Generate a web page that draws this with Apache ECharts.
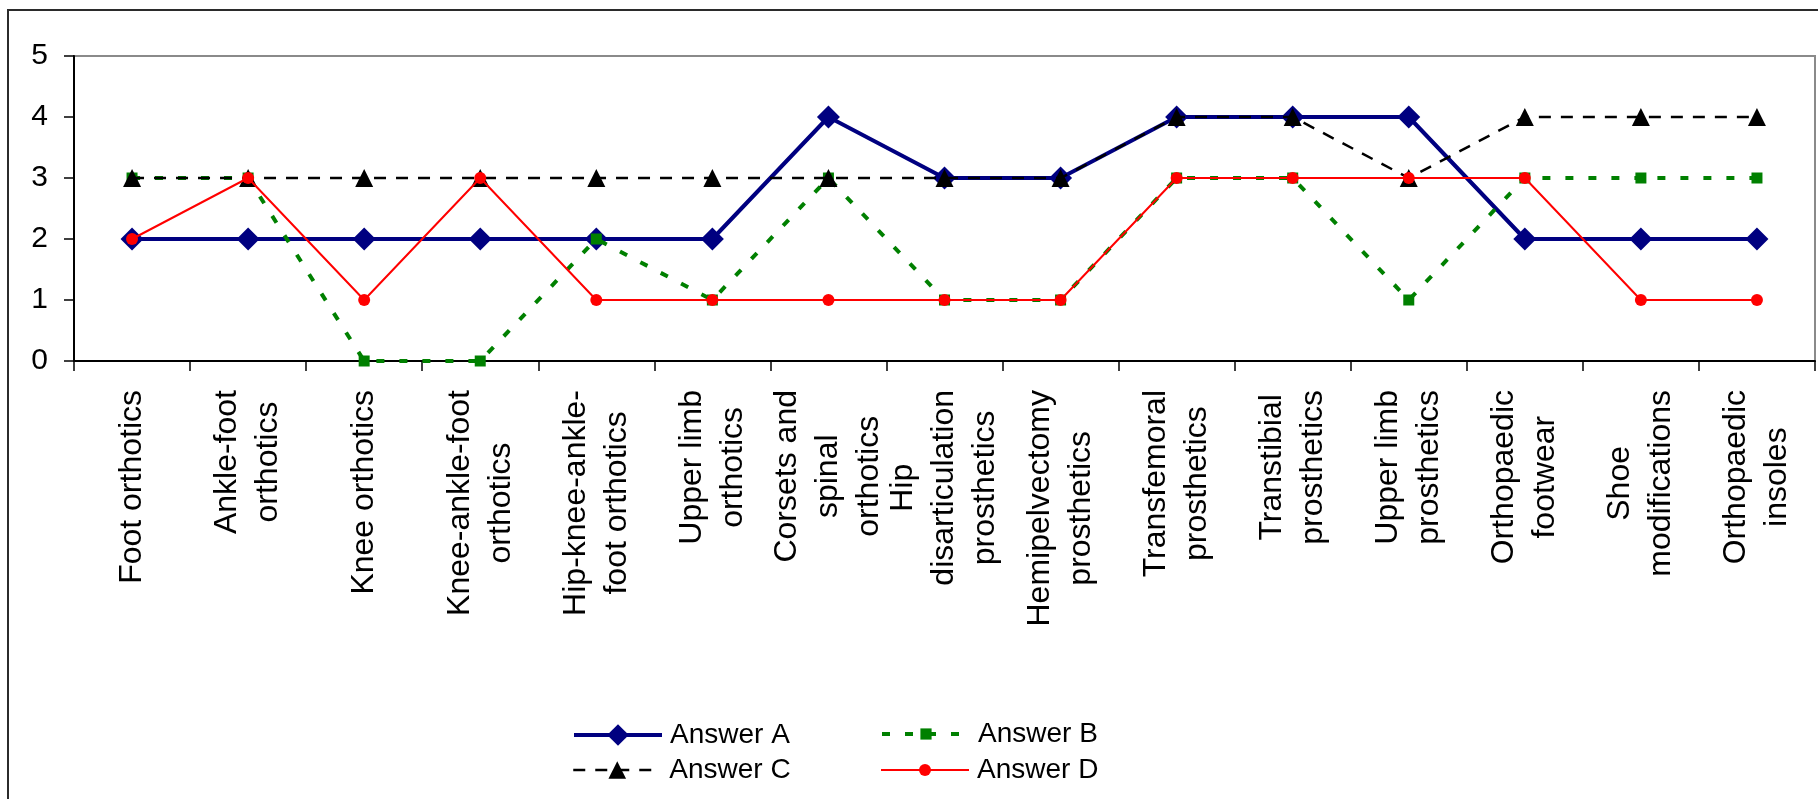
<!DOCTYPE html>
<html>
<head>
<meta charset="utf-8">
<title>Answers by device category</title>
<script src="https://cdn.jsdelivr.net/npm/echarts@6/dist/echarts.min.js"></script>
<style>
  html, body { margin: 0; padding: 0; background: #fff; }
  #chart { width: 1818px; height: 799px; }
</style>
</head>
<body>
<div id="chart"></div>
<script>
// Device categories (line breaks mark how each axis label wraps)
const categories = [
  'Foot orthotics',
  'Ankle-foot\northotics',
  'Knee orthotics',
  'Knee-ankle-foot\northotics',
  'Hip-knee-ankle-\nfoot orthotics',
  'Upper limb\northotics',
  'Corsets and\nspinal\northotics',
  'Hip\ndisarticulation\nprosthetics',
  'Hemipelvectomy\nprosthetics',
  'Transfemoral\nprosthetics',
  'Transtibial\nprosthetics',
  'Upper limb\nprosthetics',
  'Orthopaedic\nfootwear',
  'Shoe\nmodifications',
  'Orthopaedic\ninsoles'
];

const seriesNames = ['Answer A', 'Answer B', 'Answer C', 'Answer D'];

const answerA = [2, 2, 2, 2, 2, 2, 4, 3, 3, 4, 4, 4, 2, 2, 2];
const answerB = [3, 3, 0, 0, 2, 1, 3, 1, 1, 3, 3, 1, 3, 3, 3];
const answerC = [3, 3, 3, 3, 3, 3, 3, 3, 3, 4, 4, 3, 4, 4, 4];
const answerD = [2, 3, 1, 3, 1, 1, 1, 1, 1, 3, 3, 3, 3, 1, 1];

const yMin = 0, yMax = 5, yStep = 1;

const FONT = '"Liberation Sans", Arial, sans-serif';

const chart = echarts.init(document.getElementById('chart'), null, { renderer: 'canvas' });

// One legend block per series so each icon keeps its own marker size
function legendFor(name, left, top, itemHeight, lineStyle) {
  return {
    data: [name],
    orient: 'vertical',
    left: left,
    top: top,
    padding: 0,
    itemWidth: 88,
    itemHeight: itemHeight,
    selectedMode: false,
    lineStyle: lineStyle,
    textStyle: {
      fontFamily: FONT,
      fontSize: 28,
      lineHeight: 28,
      color: '#000',
      padding: [0, 0, 0, 3]
    }
  };
}

const option = {
  animation: false,
  backgroundColor: '#fff',
  graphic: [{
    type: 'rect',
    shape: { x: 8, y: 10, width: 1840, height: 820 },
    style: { fill: 'none', stroke: '#2b2b2b', lineWidth: 2 },
    silent: true,
    z: 100
  }],
  grid: {
    left: 74,
    right: 3,
    top: 56,
    bottom: 438,
    show: true,
    borderColor: '#8a8a8a',
    borderWidth: 2,
    backgroundColor: 'transparent'
  },
  legend: [
    legendFor('Answer A', 572, 721, 27, { width: 4 }),
    legendFor('Answer C', 572, 756, 22, { width: 2.5 }),
    legendFor('Answer B', 880, 720, 14, { width: 4 }),
    legendFor('Answer D', 880, 756, 15, { width: 2 })
  ],
  xAxis: {
    type: 'category',
    data: categories,
    boundaryGap: true,
    axisLine: { lineStyle: { color: '#000', width: 2 } },
    axisTick: { show: true, length: 10, interval: 0, lineStyle: { color: '#000', width: 1.5 } },
    splitLine: { show: false },
    axisLabel: {
      interval: 0,
      rotate: 90,
      margin: 29,
      color: '#000',
      fontFamily: FONT,
      fontSize: 32,
      formatter: function (v) {
        return v.split('\n').map(function (l) { return '{c|' + l + '}'; }).join('\n');
      },
      rich: {
        c: {
          align: 'center',
          fontFamily: FONT,
          fontSize: 32,
          lineHeight: 41,
          color: '#000'
        }
      }
    }
  },
  yAxis: {
    type: 'value',
    min: yMin,
    max: yMax,
    interval: yStep,
    axisLine: { show: true, lineStyle: { color: '#000', width: 2 } },
    axisTick: { show: true, length: 10, lineStyle: { color: '#000', width: 1.5 } },
    splitLine: { show: false },
    axisLabel: {
      margin: 26,
      color: '#000',
      fontFamily: FONT,
      fontSize: 30
    }
  },
  series: [
    {
      name: seriesNames[0],
      type: 'line',
      data: answerA,
      symbol: 'diamond',
      symbolSize: 23,
      color: '#000080',
      lineStyle: { color: '#000080', width: 4 },
      itemStyle: { color: '#000080' },
      z: 2
    },
    {
      name: seriesNames[1],
      type: 'line',
      data: answerB,
      symbol: 'rect',
      symbolSize: 11,
      color: '#008000',
      lineStyle: { color: '#008000', width: 4, type: [8, 15] },
      itemStyle: { color: '#008000' },
      z: 3
    },
    {
      name: seriesNames[2],
      type: 'line',
      data: answerC,
      symbol: 'triangle',
      symbolSize: 18,
      color: '#000000',
      lineStyle: { color: '#000000', width: 2.5, type: [12, 10] },
      itemStyle: { color: '#000000' },
      z: 4
    },
    {
      name: seriesNames[3],
      type: 'line',
      data: answerD,
      symbol: 'circle',
      symbolSize: 12,
      color: '#ff0000',
      lineStyle: { color: '#ff0000', width: 2 },
      itemStyle: { color: '#ff0000' },
      z: 5
    }
  ]
};

chart.setOption(option);
</script>
</body>
</html>
